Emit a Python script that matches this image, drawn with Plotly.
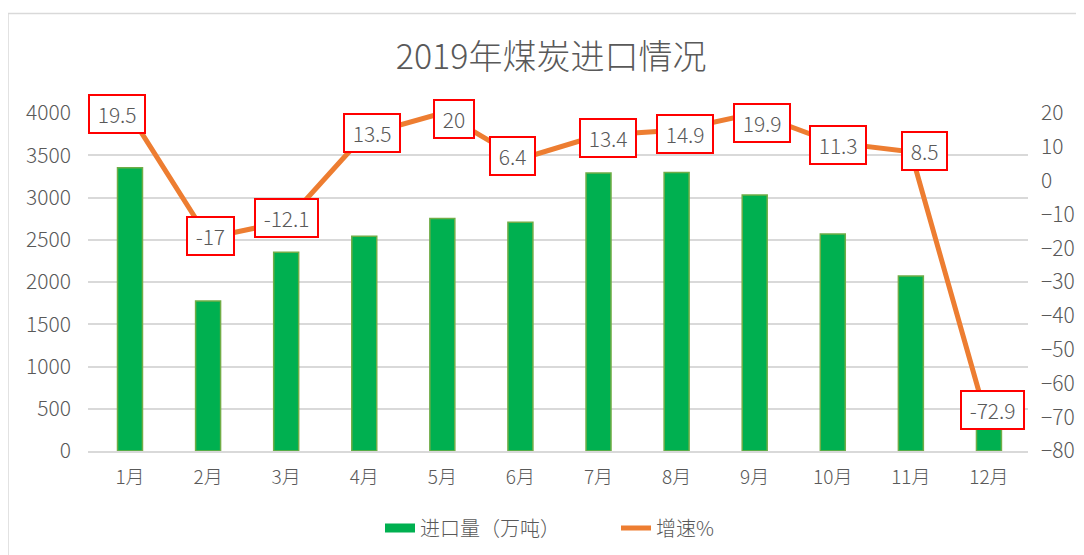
import plotly.graph_objects as go

# ---- data ----
months = ["1月", "2月", "3月", "4月", "5月", "6月", "7月", "8月", "9月", "10月", "11月", "12月"]
import_volume = [3352, 1776, 2352, 2542, 2750, 2707, 3290, 3297, 3029, 2567, 2070, 270]
growth_rate = [19.5, -17, -12.1, 13.5, 20, 6.4, 13.4, 14.9, 19.9, 11.3, 8.5, -72.9]
bar_name = "进口量（万吨）"
line_name = "增速%"
title_text = "2019年煤炭进口情况"

# label nudges in pixels (style only)
label_dx = [-13, 2, 0, 8, 12, -8, 9, 8, 7, 5, 14, 4]
label_dy = [1, 2, 4, 2, -6, 3, -3, -4, -10, -3, 1, 17]

FONT = "Noto Sans CJK SC"
GRAY = "#595959"
GREEN = "#00B050"
ORANGE = "#ED7D31"

fig = go.Figure()
fig.add_trace(go.Bar(
    x=months, y=import_volume, name=bar_name,
    marker=dict(color=GREEN, line=dict(color="#70AD47", width=1.5)),
    showlegend=False, yaxis="y",
))
# legend stand-in for bar series (wide swatch as in reference)
fig.add_trace(go.Scatter(
    x=[None], y=[None], mode="lines", name=bar_name,
    line=dict(color=GREEN, width=9), yaxis="y",
))
fig.add_trace(go.Scatter(
    x=months, y=growth_rate, name=line_name, mode="lines",
    line=dict(color=ORANGE, width=5), yaxis="y2",
))

annotations = []
for m, v, dx, dy in zip(months, growth_rate, label_dx, label_dy):
    annotations.append(dict(
        x=m, y=v, xref="x", yref="y2", text=f" {v:g} ", showarrow=False,
        font=dict(family=FONT, size=21, color=GRAY, weight=300),
        bgcolor="white", bordercolor="#FF0000", borderwidth=2, borderpad=3,
        xshift=dx, yshift=dy,
    ))

shapes = [
    dict(type="line", xref="paper", yref="paper", x0=-0.0851, x1=-0.0851, y0=-0.6, y1=1.2947,
         line=dict(color="#D9D9D9", width=1.5), layer="below"),
    dict(type="line", xref="paper", yref="paper", x0=-0.0851, x1=1.2, y0=1.2947, y1=1.2947,
         line=dict(color="#D9D9D9", width=1.5), layer="below"),
]

fig.update_layout(
    width=1084, height=555,
    margin=dict(l=80, r=64, t=105, b=112, autoexpand=False),
    paper_bgcolor="white", plot_bgcolor="white",
    font=dict(family=FONT, size=19, color=GRAY, weight=300),
    title=dict(text=title_text, x=0.501, xref="container", xanchor="center",
               y=1 - 49 / 555, yref="container", yanchor="middle",
               font=dict(family=FONT, size=34, color=GRAY, weight=300)),
    bargap=0.68,
    xaxis=dict(showgrid=False, showline=True, linecolor="#D9D9D9", linewidth=1.5,
               ticks="", automargin=False, ticklabelstandoff=8,
               tickfont=dict(size=19, color=GRAY, weight=300)),
    yaxis=dict(range=[0, 4000], dtick=500, showgrid=True, gridcolor="#D9D9D9", gridwidth=1.5,
               zeroline=False, showline=False, ticks="", ticklabelstandoff=16, automargin=False,
               tickfont=dict(size=21, color=GRAY, weight=300)),
    yaxis2=dict(range=[-80, 20], dtick=10, overlaying="y", side="right", showgrid=False,
                zeroline=False, showline=False, ticks="", ticklabelstandoff=12, automargin=False,
                tickfont=dict(size=21, color=GRAY, weight=300)),
    legend=dict(orientation="h", xref="container", yref="container",
                x=372 / 1084, xanchor="left", y=1 - 520 / 555, yanchor="middle",
                font=dict(size=20, color=GRAY, weight=300), entrywidth=191, entrywidthmode="pixels"),
    annotations=annotations,
    shapes=shapes,
)

fig.write_html("out.html")
